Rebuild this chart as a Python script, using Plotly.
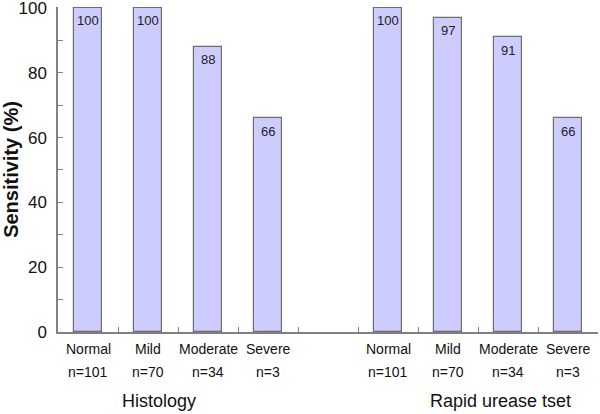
import plotly.graph_objects as go

groups = ["Histology", "Rapid urease tset"]
categories = ["Normal", "Mild", "Moderate", "Severe"]
counts = ["n=101", "n=70", "n=34", "n=3"]
histology = [100, 100, 88, 66]
rapid_urease = [100, 97, 91, 66]
y_ticks = [0, 20, 40, 60, 80, 100]

# slot positions: 4 bars, one empty slot, 4 bars
x_hist = [0, 1, 2, 3]
x_rut = [5, 6, 7, 8]
xs = x_hist + x_rut
vals = histology + rapid_urease
labels = [str(v) for v in vals]

FONT = "Liberation Sans, Arial, sans-serif"
AX = "#808080"

fig = go.Figure()
fig.add_trace(go.Bar(
    x=xs, y=vals, width=0.46,
    marker=dict(color="#ccccff", line=dict(color="#6e6e6e", width=1.2)),
    hoverinfo="skip", showlegend=False,
))

ann = []
for x, v, t in zip(xs, vals, labels):
    ann.append(dict(x=x, y=v, xref="x", yref="y", text=t, showarrow=False,
                    yshift=-13, yanchor="middle",
                    font=dict(family=FONT, size=13, color="#222")))
for xg in (x_hist, x_rut):
    for x, c, n in zip(xg, categories, counts):
        ann.append(dict(x=x, y=0, xref="x", yref="paper", text=c, showarrow=False,
                        yshift=-17, yanchor="middle",
                        font=dict(family=FONT, size=14, color="#111")))
        ann.append(dict(x=x, y=0, xref="x", yref="paper", text=n, showarrow=False,
                        yshift=-40, yanchor="middle",
                        font=dict(family=FONT, size=14, color="#111")))
for gx, g in zip([1.19, 6.87], groups):
    ann.append(dict(x=gx, y=0, xref="x", yref="paper", text=g, showarrow=False,
                    yshift=-69, yanchor="middle",
                    font=dict(family=FONT, size=18, color="#111")))

fig.update_layout(
    width=600, height=414,
    margin=dict(l=58, r=2, t=7, b=82, autoexpand=False),
    paper_bgcolor="white", plot_bgcolor="white",
    annotations=ann,
    bargap=0,
    xaxis=dict(range=[-0.5, 8.5], showgrid=False, zeroline=False,
               showline=True, linecolor=AX, linewidth=1.5,
               tickmode="array", tickvals=[0.5 + i for i in range(9)],
               showticklabels=False, ticks="inside", ticklen=5,
               tickcolor=AX, tickwidth=1.2, fixedrange=True),
    yaxis=dict(range=[0, 100.3], showgrid=False, zeroline=False,
               showline=True, linecolor=AX, linewidth=1.5,
               tickmode="array", tickvals=y_ticks,
               ticktext=[str(t) for t in y_ticks],
               ticks="inside", ticklen=5,
               tickcolor=AX, tickwidth=1.2,
               minor=dict(tickmode="array", tickvals=[10, 30, 50, 70, 90],
                          ticks="inside", ticklen=5,
                          tickcolor=AX, tickwidth=1.2),
               tickfont=dict(family=FONT, size=17, color="#111"),
               ticklabelstandoff=6, ticklabeloverflow="allow",
               title=dict(text="<b>Sensitivity (%)</b>", standoff=8,
                          font=dict(family=FONT, size=20, color="#111"))),
)

fig.write_html("out.html",
               config={"displayModeBar": False},
               post_script="document.body.style.margin='0';document.body.style.padding='0';")
